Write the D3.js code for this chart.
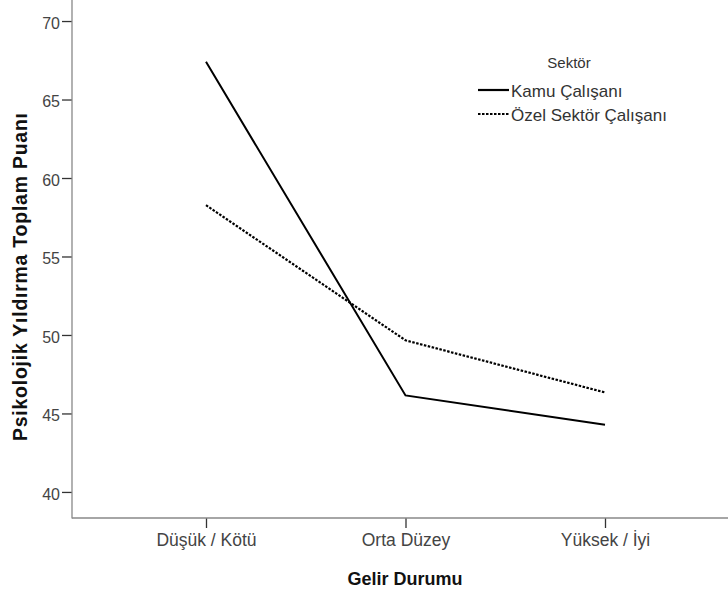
<!DOCTYPE html>
<html><head><meta charset="utf-8">
<script src="https://cdn.jsdelivr.net/npm/d3@7/dist/d3.min.js"></script>
<style>body{margin:0;background:#fff}svg{display:block}text{font-family:"Liberation Sans",Arial,sans-serif}</style>
</head><body><svg id="c" width="728" height="589"></svg>
<script>
const categories = ["Düşük / Kötü", "Orta Düzey", "Yüksek / İyi"];
const seriesNames = ["Kamu Çalışanı", "Özel Sektör Çalışanı"];
const kamu = [67.4, 46.15, 44.28];
const ozel = [58.27, 49.66, 46.34];
const yTicks = [40, 45, 50, 55, 60, 65, 70];

(function () {
const svg = d3.select("#c");
const mLeft = 72, mRight = 728, mTop = 0, mBottom = 518;
const x = d3.scalePoint().domain(categories).range([206, 605]);
const y = d3.scaleLinear().domain([38.34, 71.34]).range([mBottom, mTop]);
const FF = '"Liberation Sans",Arial,sans-serif';

// axes
const yAxis = svg.append("g").attr("transform", `translate(${mLeft},0)`)
  .call(d3.axisLeft(y).tickValues(yTicks).tickSize(10).tickPadding(2).tickFormat(d3.format("d")));
const xAxis = svg.append("g").attr("transform", `translate(0,${mBottom})`)
  .call(d3.axisBottom(x).tickSize(10).tickPadding(6));
[yAxis, xAxis].forEach(g => {
  g.select(".domain").remove();
  g.selectAll("line").attr("stroke", "#333").attr("stroke-width", 1.3);
  g.selectAll("text").attr("fill", "#444").style("font-family", FF);
});
yAxis.selectAll("text").style("font-size", "16px").attr("dy", "0.45em");
xAxis.selectAll("text").style("font-size", "17.5px");
svg.append("line").attr("x1", mLeft).attr("x2", mLeft).attr("y1", mTop).attr("y2", mBottom + 0.5)
  .attr("stroke", "#888").attr("stroke-width", 1.3);
svg.append("line").attr("x1", mLeft).attr("x2", mRight).attr("y1", mBottom).attr("y2", mBottom)
  .attr("stroke", "#888").attr("stroke-width", 1.3);

// lines
const line = d3.line().x((d, i) => x(categories[i])).y(d => y(d));
svg.append("path").datum(kamu).attr("d", line).attr("fill", "none")
  .attr("stroke", "#000").attr("stroke-width", 2);
svg.append("path").datum(ozel).attr("d", line).attr("fill", "none")
  .attr("stroke", "#000").attr("stroke-width", 2.2).attr("stroke-dasharray", "2.5,1.5");

// axis titles
svg.append("text").attr("x", 405).attr("y", 585).attr("text-anchor", "middle")
  .style("font-size", "18px").style("font-weight", "bold").attr("fill", "#111").text("Gelir Durumu");
svg.append("text").attr("transform", "translate(27,277) rotate(-90)").attr("text-anchor", "middle")
  .attr("textLength", 328).attr("lengthAdjust", "spacing")
  .style("font-size", "19.5px").style("font-weight", "bold").attr("fill", "#111").text("Psikolojik Yıldırma Toplam Puanı");

// legend
const lg = svg.append("g");
lg.append("text").attr("x", 569).attr("y", 68).attr("text-anchor", "middle")
  .style("font-size", "15px").attr("fill", "#333").text("Sektör");
const dashes = [null, "2.5,1.5"];
seriesNames.forEach((n, i) => {
  const yy = 90 + i * 24;
  lg.append("line").attr("x1", 478).attr("x2", 509).attr("y1", yy).attr("y2", yy)
    .attr("stroke", "#000").attr("stroke-width", 2.2).attr("stroke-dasharray", dashes[i]);
  lg.append("text").attr("x", 511).attr("y", yy + 7).style("font-size", "17px").attr("fill", "#333").text(n);
});
})();
</script></body></html>
